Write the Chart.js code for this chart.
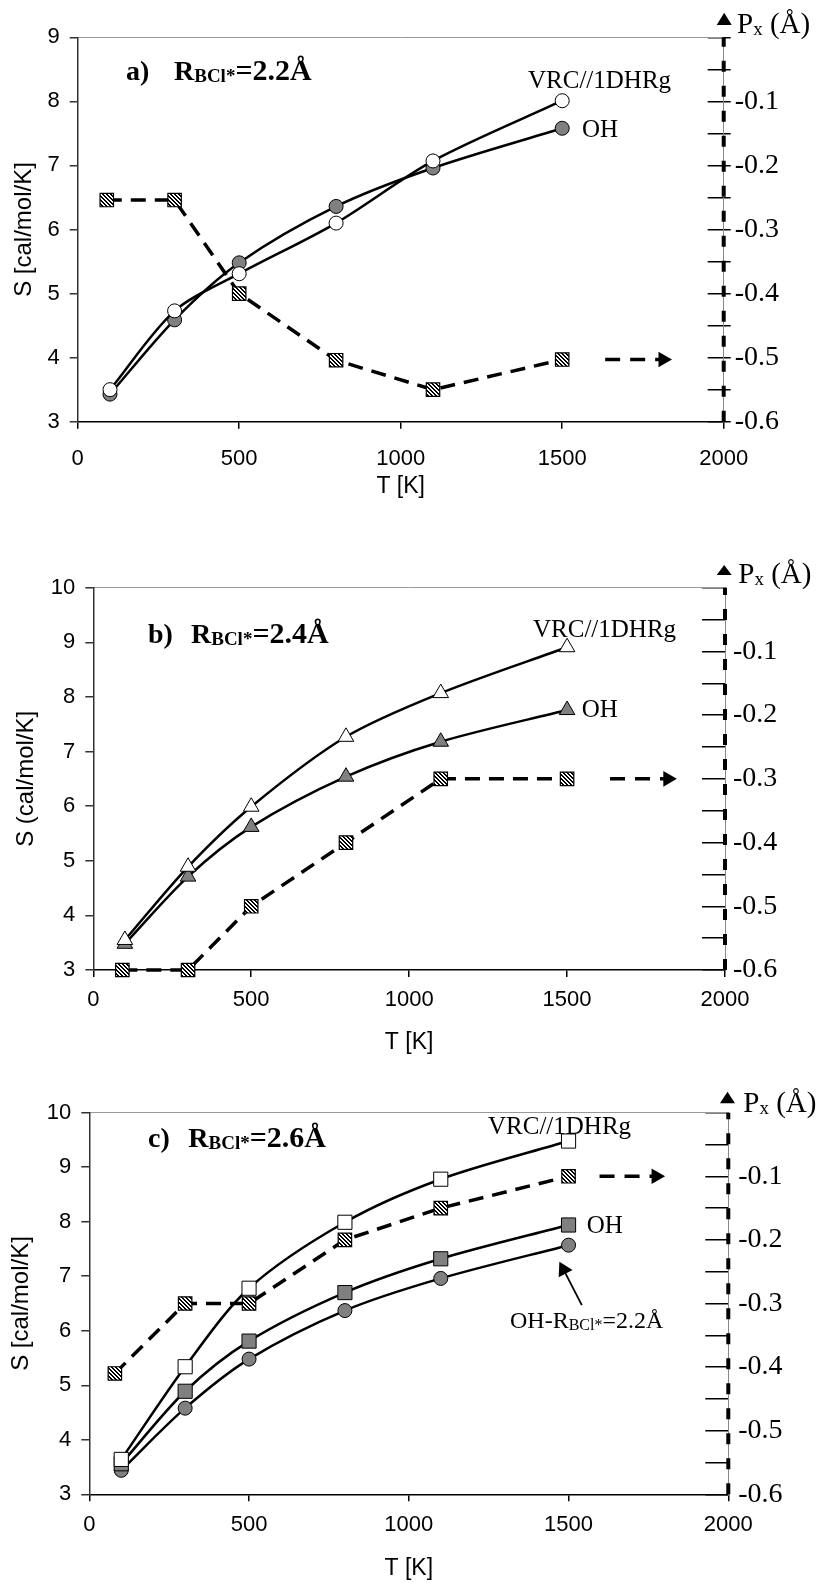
<!DOCTYPE html>
<html>
<head>
<meta charset="utf-8">
<script src="https://cdn.jsdelivr.net/npm/chart.js@4.4.1/dist/chart.umd.min.js"></script>
<style>
  body { margin: 0; background: #fff; width: 820px; height: 1594px; position: relative; overflow: hidden; }
  .panel { position: absolute; left: 0; width: 820px; }
</style>
</head>
<body>
<div class="panel" style="top:0px;height:520px"><canvas id="chartA" width="820" height="520"></canvas></div>
<div class="panel" style="top:530px;height:530px"><canvas id="chartB" width="820" height="530"></canvas></div>
<div class="panel" style="top:1060px;height:534px"><canvas id="chartC" width="820" height="534"></canvas></div>
<script>
// temperatures [K] of the S points
const temps = [100, 300, 500, 800, 1100, 1500];
const xTicks = [0, 500, 1000, 1500, 2000];
const pxTicks = [-0.6, -0.55, -0.5, -0.45, -0.4, -0.35, -0.3, -0.25, -0.2, -0.15, -0.1, -0.05, 0];

// a) R_BCl* = 2.2 A
const aVrc = [3.50, 4.73, 5.31, 6.10, 7.07, 8.01];
const aOh = [3.43, 4.59, 5.48, 6.36, 6.96, 7.58];
const aPxT = [90, 300, 500, 800, 1100, 1500];
const aPx = [-0.254, -0.254, -0.40, -0.504, -0.55, -0.503];

// b) R_BCl* = 2.4 A
const bVrc = [3.55, 4.89, 5.99, 7.27, 8.07, 8.91];
const bOh = [3.48, 4.71, 5.62, 6.54, 7.18, 7.76];
const bPxT = [92, 300, 500, 800, 1100, 1500];
const bPx = [-0.60, -0.60, -0.50, -0.40, -0.30, -0.30];

// c) R_BCl* = 2.6 A
const cVrc = [3.64, 5.34, 6.78, 7.99, 8.78, 9.48];
const cOh = [3.56, 4.89, 5.81, 6.70, 7.32, 7.94];
const cOh22 = [3.44, 4.58, 5.48, 6.37, 6.96, 7.57];
const cPxT = [80, 300, 500, 800, 1100, 1500];
const cPx = [-0.41, -0.30, -0.30, -0.20, -0.15, -0.10];

// dashed "goes to right axis" arrows: start T, arrow head T
const aArrow = [1633, 1812];
const bArrow = [1636, 1819];
const cArrow = [1597, 1774];
// pointer arrow in c): tail (T,S) and head (T,S)
const cPointer = [[1541.6, 6.47], [1484.3, 7.12]];

const SANS = "'Liberation Sans', Arial, sans-serif";
const SERIF = "'Liberation Serif', 'Times New Roman', serif";

const pts = (xs, ys) => xs.map((x, i) => ({ x: x, y: ys[i] }));

function hatch(ctx) {
  const c = document.createElement("canvas");
  c.width = 4; c.height = 4;
  const g = c.getContext("2d");
  g.fillStyle = "#fff";
  g.fillRect(0, 0, 4, 4);
  g.fillStyle = "#000";
  for (let i = 0; i < 4; i++) {
    g.fillRect(i, i, 1, 1);
    g.fillRect((i + 1) % 4, i, 1, 1);
  }
  return ctx.createPattern(c, "repeat");
}

function pxLabel(v) {
  const k = Math.round(v * 100);
  if (k === 0 || k % 10 !== 0) return "";
  return (k / 100).toFixed(1);
}

// texts drawn on top of the chart
function textPlugin(items, tri) {
  return {
    id: "texts",
    afterDraw(chart) {
      const ctx = chart.ctx;
      ctx.save();
      ctx.fillStyle = "#000";
      ctx.textBaseline = "alphabetic";
      ctx.textAlign = "left";
      items.forEach((item) => {
        let x = item.x;
        item.runs.forEach((r) => {
          if (r.at != null) x = r.at;
          ctx.font = r.font;
          ctx.fillText(r.t, x, item.y + (r.dy || 0));
          x += ctx.measureText(r.t).width;
        });
      });
      // small arrow head on top of the right axis
      ctx.beginPath();
      ctx.moveTo(tri[0], tri[3]);
      ctx.lineTo(tri[1], tri[3]);
      ctx.lineTo((tri[0] + tri[1]) / 2, tri[2]);
      ctx.closePath();
      ctx.fill();
      ctx.restore();
    },
  };
}

function pxTitle(x, y) {
  return {
    x: x, y: y,
    runs: [
      { t: "P", font: "29px " + SERIF },
      { t: "x", font: "19px " + SERIF, dy: 2 },
      { t: " (Å)", font: "29px " + SERIF },
    ],
  };
}

function panelTitle(letter, value, at1, at2, y) {
  return {
    x: at1, y: y,
    runs: [
      { t: letter, at: at1, font: "bold 28px " + SERIF },
      { t: "R", at: at2, font: "bold 28px " + SERIF },
      { t: "BCl*", font: "bold 19px " + SERIF, dy: 2 },
      { t: "=" + value + "Å", font: "bold 30px " + SERIF },
    ],
  };
}

function makePanel(id, opt) {
  const canvas = document.getElementById(id);
  const ctx = canvas.getContext("2d");
  const H = canvas.height;
  const pat = hatch(ctx);
  const area = opt.area;

  const sets = [];
  opt.series.forEach((s) => {
    sets.push({
      data: pts(temps, s.values),
      yAxisID: "y",
      borderColor: "#000",
      borderWidth: 2.5,
      tension: 0.3,
      pointStyle: s.style,
      pointRadius: s.radius,
      pointBackgroundColor: s.fill,
      pointBorderColor: "#000",
      pointBorderWidth: 1,
      clip: false,
    });
  });
  if (opt.pointer) {
    sets.push({
      data: opt.pointer.map((p) => ({ x: p[0], y: p[1] })),
      yAxisID: "y",
      borderColor: "#000",
      borderWidth: 1.8,
      pointStyle: "triangle",
      pointRadius: [0, 9],
      pointRotation: -27.4,
      pointBackgroundColor: "#000",
      pointBorderWidth: 0,
      clip: false,
    });
  }
  // P_x values (right axis)
  sets.push({
    data: pts(opt.pxT, opt.px),
    yAxisID: "yR",
    borderColor: "#000",
    borderWidth: 3.5,
    borderDash: [15, 9],
    tension: 0,
    pointStyle: "rect",
    pointRadius: 9.5,
    pointBackgroundColor: pat,
    pointBorderColor: "#000",
    pointBorderWidth: 1.2,
    clip: false,
  });
  const lastPx = opt.px[opt.px.length - 1];
  sets.push({
    data: [{ x: opt.arrow[0], y: lastPx }, { x: opt.arrow[1], y: lastPx }],
    yAxisID: "yR",
    borderColor: "#000",
    borderWidth: 3.5,
    borderDash: [15, 10],
    pointStyle: "triangle",
    pointRadius: [0, 9],
    pointRotation: 90,
    pointBackgroundColor: "#000",
    pointBorderWidth: 0,
    clip: false,
  });
  // dashed right axis
  sets.push({
    data: [{ x: 2000, y: -0.6 }, { x: 2000, y: 0 }],
    yAxisID: "yR",
    borderColor: "#000",
    borderWidth: 4,
    borderDash: [11, 14],
    pointRadius: 0,
    clip: false,
  });

  new Chart(ctx, {
    type: "line",
    data: { datasets: sets },
    options: {
      responsive: false,
      animation: false,
      events: [],
      layout: { padding: { top: area.top, left: 0, right: 0, bottom: 0 } },
      plugins: { legend: { display: false }, tooltip: { enabled: false } },
      scales: {
        x: {
          type: "linear",
          position: "bottom",
          min: 0,
          max: 2000,
          afterBuildTicks: (s) => { s.ticks = xTicks.map((v) => ({ value: v })); },
          ticks: { callback: (v) => String(v), font: { family: SANS, size: 22 }, color: "#000", padding: opt.xPad, maxRotation: 0, autoSkip: false },
          grid: { drawOnChartArea: false, tickLength: 7, color: "#000", lineWidth: 1.5 },
          border: { color: "#000", width: 1.5 },
          title: { display: true, text: "T [K]", font: { family: SANS, size: 23 }, color: "#000", padding: { top: 0, bottom: opt.xTitlePad } },
          afterFit: (s) => { s.height = H - area.bottom; },
        },
        xTop: {
          type: "linear",
          position: "top",
          min: 0,
          max: 2000,
          ticks: { display: false },
          grid: { drawOnChartArea: false, drawTicks: false },
          border: { color: "#999", width: 1 },
          afterFit: (s) => { s.height = 0; },
        },
        y: {
          type: "linear",
          position: "left",
          min: 3,
          max: opt.yMax,
          ticks: { stepSize: 1, font: { family: SANS, size: 22 }, color: "#000", padding: 10 },
          grid: { drawOnChartArea: false, tickLength: 8, color: "#333", lineWidth: 1.5 },
          border: { color: "#333", width: 1.5 },
          title: { display: true, text: opt.yTitle, font: { family: SANS, size: 24 }, color: "#000", padding: { top: opt.yTitlePad, bottom: 0 } },
          afterFit: (s) => { s.width = area.left; },
        },
        yR: {
          type: "linear",
          position: "right",
          weight: 0,
          min: -0.6,
          max: 0,
          afterBuildTicks: (s) => { s.ticks = pxTicks.map((v) => ({ value: v })); },
          ticks: { display: false },
          grid: { drawOnChartArea: false, tickLength: -opt.innerTick, color: "#000", lineWidth: 1.5 },
          border: { color: "#888", width: 1 },
          afterFit: (s) => { s.width = 0; },
        },
        yR2: {
          type: "linear",
          position: "right",
          weight: 1,
          min: -0.6,
          max: 0,
          afterBuildTicks: (s) => { s.ticks = pxTicks.map((v) => ({ value: v })); },
          ticks: { callback: pxLabel, font: { family: SERIF, size: 28 }, color: "#000", padding: opt.rPad, autoSkip: false },
          grid: { drawOnChartArea: false, drawTicks: opt.outerTick > 0, tickLength: opt.outerTick, color: "#000", lineWidth: 1.5 },
          border: { display: false },
          afterFit: (s) => { s.width = 820 - area.right; },
        },
      },
    },
    plugins: [textPlugin(opt.texts, opt.tri)],
  });
}

makePanel("chartA", {
  area: { left: 77.7, top: 37.3, right: 723.7, bottom: 421.7 },
  yMax: 9,
  yTitle: "S [cal/mol/K]",
  yTitlePad: 10,
  xPad: 17,
  xTitlePad: 20,
  innerTick: 16,
  outerTick: 7,
  rPad: 4,
  series: [
    { values: aVrc, style: "circle", radius: 7, fill: "#fff" },
    { values: aOh, style: "circle", radius: 7, fill: "#808080" },
  ],
  pxT: aPxT,
  px: aPx,
  arrow: aArrow,
  texts: [
    panelTitle("a)", "2.2", 126, 174, 80),
    { x: 528, y: 88, runs: [{ t: "VRC//1DHRg", font: "25px " + SERIF }] },
    { x: 582, y: 137, runs: [{ t: "OH", font: "25px " + SERIF }] },
    pxTitle(737, 33),
  ],
  tri: [716.7, 731.7, 12.7, 25],
});

makePanel("chartB", {
  area: { left: 93.3, top: 57.7, right: 725, bottom: 440 },
  yMax: 10,
  yTitle: "S (cal/mol/K]",
  yTitlePad: 12.3,
  xPad: 10,
  xTitlePad: 4,
  innerTick: 23,
  outerTick: 0,
  rPad: 8,
  series: [
    { values: bVrc, style: "triangle", radius: 9, fill: "#fff" },
    { values: bOh, style: "triangle", radius: 9, fill: "#808080" },
  ],
  pxT: bPxT,
  px: bPx,
  arrow: bArrow,
  texts: [
    panelTitle("b)", "2.4", 148, 191, 113.3),
    { x: 533, y: 106.7, runs: [{ t: "VRC//1DHRg", font: "25px " + SERIF }] },
    { x: 581.7, y: 187, runs: [{ t: "OH", font: "25px " + SERIF }] },
    pxTitle(738.3, 53.3),
  ],
  tri: [716.7, 731.7, 35, 45],
});

makePanel("chartC", {
  area: { left: 89.3, top: 52.7, right: 728.3, bottom: 434.3 },
  yMax: 10,
  yTitle: "S [cal/mol/K]",
  yTitlePad: 7.3,
  xPad: 10,
  xTitlePad: 12,
  innerTick: 23,
  outerTick: 0,
  rPad: 10,
  series: [
    { values: cVrc, style: "rect", radius: 10, fill: "#fff" },
    { values: cOh, style: "rect", radius: 10, fill: "#808080" },
    { values: cOh22, style: "circle", radius: 7, fill: "#808080" },
  ],
  pointer: cPointer,
  pxT: cPxT,
  px: cPx,
  arrow: cArrow,
  texts: [
    panelTitle("c)", "2.6", 148, 188.3, 87.3),
    { x: 488, y: 74, runs: [{ t: "VRC//1DHRg", font: "25px " + SERIF }] },
    { x: 586.7, y: 173.3, runs: [{ t: "OH", font: "25px " + SERIF }] },
    {
      x: 510, y: 268.3,
      runs: [
        { t: "OH-R", font: "24px " + SERIF },
        { t: "BCl*", font: "16px " + SERIF, dy: 2 },
        { t: "=2.2Å", font: "24px " + SERIF },
      ],
    },
    pxTitle(743.3, 51.7),
  ],
  tri: [720, 735, 31.7, 43.3],
});
</script>
</body>
</html>
